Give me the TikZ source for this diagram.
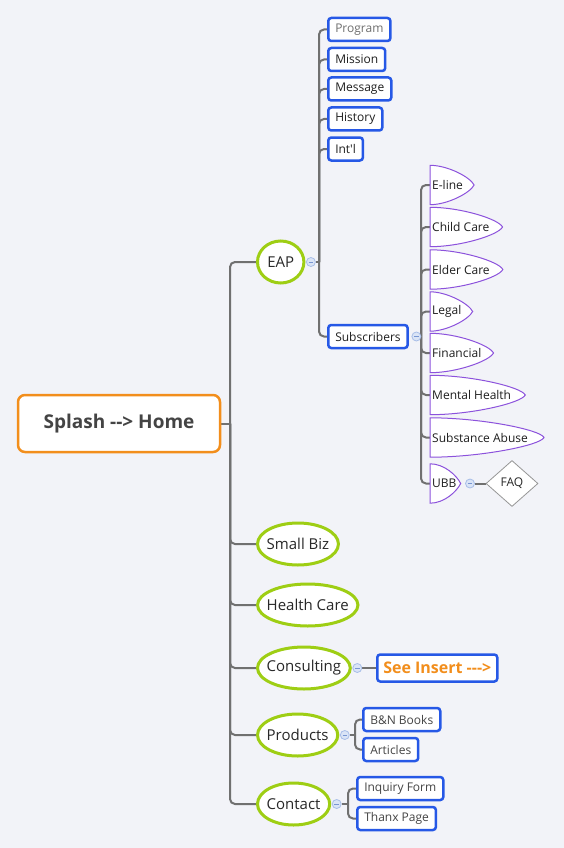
\documentclass[tikz,border=0pt]{standalone}
\usepackage{fontspec}
\setmainfont{Open Sans}
\usepackage{xcolor}
\usetikzlibrary{shapes.geometric,calc}
\pgfdeclarelayer{back}
\pgfdeclarelayer{under}
\pgfsetlayers{back,under,main}

\begin{document}
\begin{tikzpicture}[x=1pt,y=1pt,yscale=-1,xscale=1,
  pagefill/.style={fill={rgb,255:red,242;green,243;blue,248}},
  link/.style={draw={rgb,255:red,112;green,112;blue,112},line width=2,rounded corners=5},
  rootbox/.style={draw={rgb,255:red,242;green,142;blue,28},line width=2.5,rounded corners=7,fill=white,minimum width=202,minimum height=57,font=\fontsize{19}{23}\selectfont\bfseries,text={rgb,255:red,68;green,68;blue,68}},
  topic/.style={inner xsep=9,minimum height=42,font=\fontsize{15}{18}\selectfont,text={rgb,255:red,40;green,40;blue,40},anchor=west},
  topicline/.style={draw={rgb,255:red,158;green,206;blue,20},line width=3,fill=white},
  subbox/.style={draw={rgb,255:red,38;green,88;blue,230},line width=2.5,rounded corners=3,fill=white,minimum height=23,inner xsep=7,font=\fontsize{12}{14}\selectfont,text={rgb,255:red,30;green,30;blue,30},anchor=west},
  bulb/.style={inner xsep=2,inner ysep=0,minimum height=39,font=\fontsize{12}{14}\selectfont,text={rgb,255:red,30;green,30;blue,30},anchor=west},
  bulbline/.style={draw={rgb,255:red,140;green,82;blue,220},line width=1,fill=white},
  fold/.style={circle,draw={rgb,255:red,168;green,190;blue,232},fill={rgb,255:red,218;green,228;blue,246},line width=0.8,minimum size=9,inner sep=0,
    path picture={\draw[draw={rgb,255:red,120;green,150;blue,210},line width=0.8] ([xshift=2.2]path picture bounding box.west) -- ([xshift=-2.2]path picture bounding box.east);}},
  faq/.style={diamond,draw={rgb,255:red,150;green,150;blue,150},line width=0.8,fill=white,minimum width=52,minimum height=46,inner sep=0,font=\fontsize{12}{14}\selectfont,text={rgb,255:red,40;green,40;blue,40}}
]
%Shape: Page
\begin{pgfonlayer}{back}
\fill[pagefill] (0,0) rectangle (564,848);
\end{pgfonlayer}
\useasboundingbox (0,0) rectangle (564,848);

% Root
\node[rootbox] (root) at (119,423.5) {Splash -{}-> Home};

% Main topics
\node[topic,minimum width=46] (eap) at (257.5,262) {EAP};
\node[topic] (smallbiz) at (257.5,544) {Small Biz};
\node[topic] (healthcare) at (257.5,605) {Health Care};
\node[topic] (consulting) at (257.5,668) {Consulting};
\node[topic] (products) at (257.5,735) {Products};
\node[topic] (contact) at (257.5,804) {Contact};

% Folds
\node[fold] (feap) at ($(eap.east)+(7,0)$) {};
\node[fold] (fconsulting) at ($(consulting.east)+(7,0)$) {};
\node[fold] (fproducts) at ($(products.east)+(7,0)$) {};
\node[fold] (fcontact) at ($(contact.east)+(7,0)$) {};

% EAP
\node[subbox,text={rgb,255:red,110;green,110;blue,110}] (program) at (327,29.5) {Program};
\node[subbox] (mission) at (327,59.5) {Mission};
\node[subbox] (message) at (327,89) {Message};
\node[subbox] (history) at (327,119) {History};
\node[subbox] (intl) at (327,149) {Int\textquotesingle l};
\node[subbox] (subscribers) at (327,336.5) {Subscribers};
\node[fold] (fsubscribers) at ($(subscribers.east)+(7.5,0)$) {};

% Subscribers
\node[bulb] (eline) at (430,185) {E-line};
\node[bulb] (child) at (430,227) {Child Care};
\node[bulb] (elder) at (430,269.5) {Elder Care};
\node[bulb] (legal) at (430,311.5) {Legal};
\node[bulb] (financial) at (430,353) {Financial};
\node[bulb] (mental) at (430,395) {Mental Health};
\node[bulb] (substance) at (430,437.5) {Substance Abuse};
\node[bulb] (ubb) at (430,483.5) {UBB};
\node[fold] (fubb) at (470,483.5) {};
\node[faq] (faqnode) at (512,483.5) {FAQ};

% Consulting, Products, Contact
\node[subbox,minimum height=27,inner xsep=6,font=\fontsize{16}{19}\selectfont\bfseries,text={rgb,255:red,242;green,142;blue,28}] (insert) at (376,668) {See Insert -{}-{}->};
\node[subbox,text={rgb,255:red,68;green,68;blue,68}] (bnbooks) at (362,719.5) {B\&N Books};
\node[subbox,text={rgb,255:red,68;green,68;blue,68}] (articles) at (362,749.5) {Articles};
\node[subbox,text={rgb,255:red,68;green,68;blue,68}] (inquiry) at (356,788.5) {Inquiry Form};
\node[subbox,text={rgb,255:red,68;green,68;blue,68}] (thanx) at (356,818.5) {Thanx Page};

\begin{pgfonlayer}{under}
%Straight Lines
\coordinate (jroot) at (230,423.5);
\coordinate (jeap) at (319,262);
\coordinate (jsubscribers) at (421,336.5);
\coordinate (jproducts) at (355,735);
\coordinate (jcontact) at (348,804);
\draw[link] (root.east) -- (jroot);
\foreach \n in {eap,smallbiz,healthcare,consulting,products,contact}
  \draw[link] (jroot) |- (\n.west);
\draw[link] (feap.east) -- (jeap);
\foreach \n in {program,mission,message,history,intl,subscribers}
  \draw[link] (jeap) |- (\n.west);
\draw[link] (fsubscribers.east) -- (jsubscribers);
\foreach \n in {eline,child,elder,legal,financial,mental,substance,ubb}
  \draw[link] (jsubscribers) |- (\n.west);
\draw[link] (fubb.east) -- (faqnode.west);
\draw[link] (fconsulting.east) -- (insert.west);
\draw[link] (fproducts.east) -- (jproducts);
\foreach \n in {bnbooks,articles}
  \draw[link] (jproducts) |- (\n.west);
\draw[link] (fcontact.east) -- (jcontact);
\foreach \n in {inquiry,thanx}
  \draw[link] (jcontact) |- (\n.west);

%Shape: Ellipse
\foreach \k in {eap,smallbiz,healthcare,consulting,products,contact}
  \draw[topicline] let \p1=($(\k.east)-(\k.west)$) in (\k.center) ellipse [x radius=0.5*\x1, y radius=21pt];

%Shape: Bullet
\foreach \n/\t in {eline/9,child/11,elder/11,legal/9,financial/10,mental/12,substance/14,ubb/2}
  \draw[bulbline] (\n.north west) .. controls ($(\n.north west)!0.5!(\n.north east)$) and ($(\n.east)+(\t-4,-8)$) .. ($(\n.east)+(\t,0)$) .. controls ($(\n.east)+(\t-4,8)$) and ($(\n.south west)!0.5!(\n.south east)$) .. (\n.south west) -- cycle;
\end{pgfonlayer}

\end{tikzpicture}
\end{document}
